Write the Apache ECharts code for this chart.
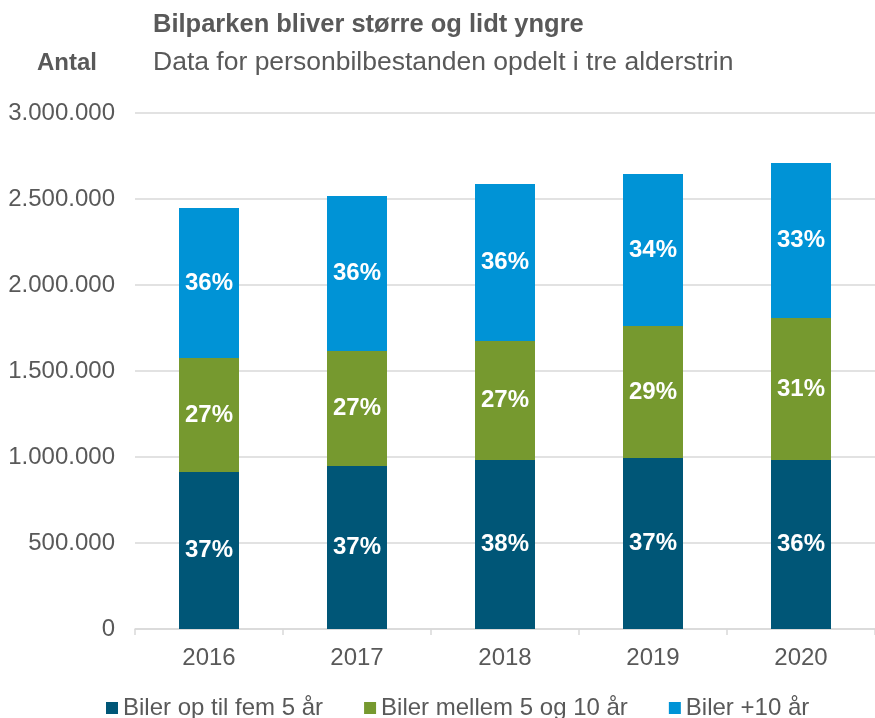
<!DOCTYPE html>
<html>
<head>
<meta charset="utf-8">
<script src="https://cdn.jsdelivr.net/npm/echarts@6/dist/echarts.min.js"></script>
<style>
  html, body { margin: 0; padding: 0; background: #fff; }
  #main { width: 875px; height: 718px; }
</style>
</head>
<body>
<div id="main"></div>
<script>
// data
var years = ['2016', '2017', '2018', '2019', '2020'];
var young = [913000, 948000, 983000, 994000, 983000];
var middle = [663000, 668000, 691000, 768000, 825000];
var old = [872000, 901000, 913000, 883000, 901000];
var youngPct = ['37%', '37%', '38%', '37%', '36%'];
var middlePct = ['27%', '27%', '27%', '29%', '31%'];
var oldPct = ['36%', '36%', '36%', '34%', '33%'];
var seriesNames = ['Biler op til fem 5 år', 'Biler mellem 5 og 10 år', 'Biler +10 år'];
var colors = ['#005677', '#76992f', '#0093d6'];

var chart = echarts.init(document.getElementById('main'));

function fmt(v) {
  return String(v).replace(/\B(?=(\d{3})+(?!\d))/g, '.');
}

function makeSeries(name, data, pct, color) {
  return {
    name: name,
    type: 'bar',
    stack: 'total',
    data: data,
    barWidth: 60,
    itemStyle: { color: color },
    label: {
      show: true,
      position: 'inside',
      color: '#fff',
      fontWeight: 'bold',
      fontSize: 24,
      fontFamily: 'Liberation Sans',
      formatter: function (p) { return pct[p.dataIndex]; }
    }
  };
}

chart.setOption({
  animation: false,
  textStyle: { fontFamily: 'Liberation Sans' },
  title: [
    {
      text: 'Bilparken bliver større og lidt yngre',
      left: 148, top: 7,
      textStyle: { fontSize: 25.5, fontWeight: 'bold', color: '#595959', fontFamily: 'Liberation Sans' }
    },
    {
      text: 'Data for personbilbestanden opdelt i tre alderstrin',
      left: 148, top: 44,
      textStyle: { fontSize: 26.5, fontWeight: 'normal', color: '#595959', fontFamily: 'Liberation Sans' }
    },
    {
      text: 'Antal',
      left: 32, top: 46,
      textStyle: { fontSize: 24, fontWeight: 'bold', color: '#595959', fontFamily: 'Liberation Sans' }
    }
  ],
  legend: {
    bottom: -7,
    left: 101,
    itemGap: 41,
    itemWidth: 12,
    itemHeight: 12,
    icon: 'rect',
    textStyle: { fontSize: 24, color: '#595959', fontFamily: 'Liberation Sans' },
    data: seriesNames
  },
  grid: { left: 135, right: -10, top: 113, bottom: 89 },
  xAxis: {
    type: 'category',
    data: years,
    axisLine: { lineStyle: { color: '#d9d9d9', width: 1.5 } },
    axisTick: { show: true, length: 6, lineStyle: { color: '#d9d9d9', width: 1.5 } },
    axisLabel: { fontSize: 24, color: '#595959', margin: 17 }
  },
  yAxis: {
    type: 'value',
    min: 0,
    max: 3000000,
    interval: 500000,
    axisLine: { show: false },
    axisTick: { show: false },
    splitLine: { lineStyle: { color: '#d9d9d9', width: 1.5 } },
    axisLabel: { fontSize: 24, color: '#595959', margin: 20, formatter: fmt }
  },
  series: [
    makeSeries(seriesNames[0], young, youngPct, colors[0]),
    makeSeries(seriesNames[1], middle, middlePct, colors[1]),
    makeSeries(seriesNames[2], old, oldPct, colors[2])
  ]
});
</script>
</body>
</html>
